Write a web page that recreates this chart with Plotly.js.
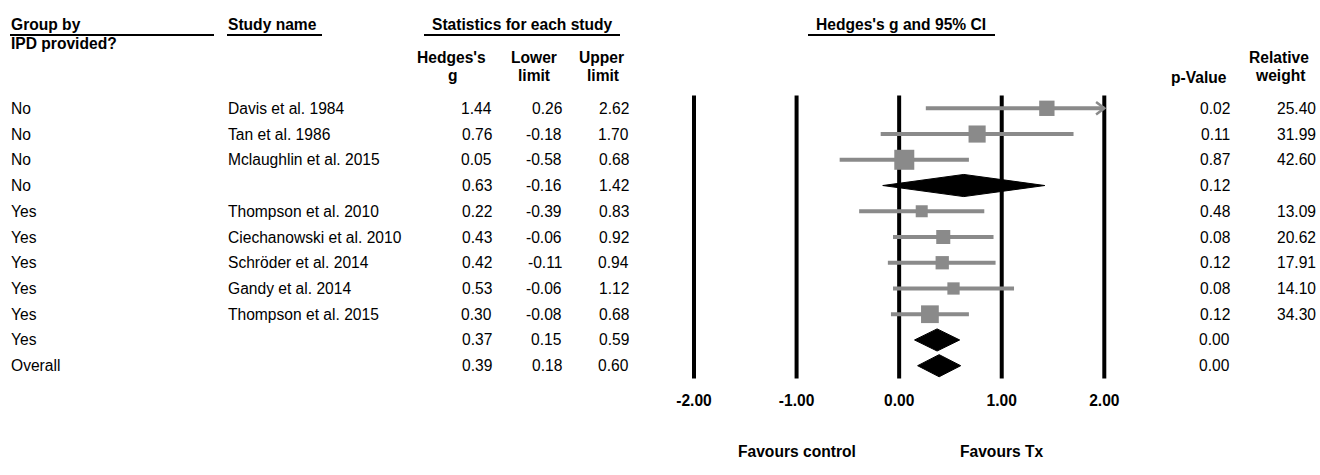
<!DOCTYPE html>
<html>
<head>
<meta charset="utf-8">
<script src="https://cdn.plot.ly/plotly-3.0.1.min.js"></script>
<style>html,body{margin:0;padding:0;background:#fff}#chart{width:1320px;height:475px}</style>
</head>
<body>
<div id="chart"></div>
<script>
// ---------------- data ----------------
const groups = ['No','No','No','No','Yes','Yes','Yes','Yes','Yes','Yes','Overall'];
const studies = ['Davis et al. 1984','Tan et al. 1986','Mclaughlin et al. 2015','',
  'Thompson et al. 2010','Ciechanowski et al. 2010','Schröder et al. 2014','Gandy et al. 2014','Thompson et al. 2015','',''];
const hedgesG = [1.44,0.76,0.05,0.63,0.22,0.43,0.42,0.53,0.30,0.37,0.39];
const lowerLimit = [0.26,-0.18,-0.58,-0.16,-0.39,-0.06,-0.11,-0.06,-0.08,0.15,0.18];
const upperLimit = [2.62,1.70,0.68,1.42,0.83,0.92,0.94,1.12,0.68,0.59,0.60];
const pValues = [0.02,0.11,0.87,0.12,0.48,0.08,0.12,0.08,0.12,0.00,0.00];
const relWeight = [25.40,31.99,42.60,null,13.09,20.62,17.91,14.10,34.30,null,null];
const tickVals = [-2,-1,0,1,2];
const tickText = ['-2.00','-1.00','0.00','1.00','2.00'];

// ---------------- geometry / style ----------------
const W = 1320, H = 475;
const X0 = 899.15, XS = 102.575;     // pixel of 0, pixels per unit
const R0 = 108.3, RS = 25.74;        // pixel of first row, pixels per row
const FONT = '"Liberation Sans", Arial, sans-serif';
const GRAY = '#8a8a8a';
const FS = 15.6;
const pxX = v => v / W;
const pxY = v => 1 - v / H;
const xMin = Math.min(...tickVals), xMax = Math.max(...tickVals);

const traces = [];
// CI lines
const ciX = [], ciY = [];
studies.forEach((s, i) => {
  if (s === '') return;
  ciX.push(Math.max(lowerLimit[i], xMin), Math.min(upperLimit[i], xMax), null);
  ciY.push(i, i, null);
});
traces.push({x: ciX, y: ciY, mode: 'lines', line: {color: GRAY, width: 4}, hoverinfo: 'skip', showlegend: false});
// arrow heads for clipped CIs
studies.forEach((s, i) => {
  if (s === '' || upperLimit[i] <= xMax) return;
  traces.push({x: [xMax - 0.08, xMax, xMax - 0.08], y: [i - 0.24, i, i + 0.24], mode: 'lines',
    line: {color: GRAY, width: 2.5}, hoverinfo: 'skip', showlegend: false});
});
// squares
const sqX = [], sqY = [], sqS = [];
studies.forEach((s, i) => {
  if (s === '') return;
  sqX.push(hedgesG[i]); sqY.push(i); sqS.push(8.45 + 0.271 * relWeight[i]);
});
traces.push({x: sqX, y: sqY, mode: 'markers', marker: {symbol: 'square', size: sqS, color: GRAY, opacity: 1, line: {width: 0}},
  hoverinfo: 'skip', showlegend: false});
// diamonds for summary rows
studies.forEach((s, i) => {
  if (s !== '') return;
  const h = 0.43;
  traces.push({x: [lowerLimit[i], hedgesG[i], upperLimit[i], hedgesG[i], lowerLimit[i]],
    y: [i, i - h, i, i + h, i], mode: 'lines', fill: 'toself', fillcolor: '#000',
    line: {color: '#000', width: 1}, hoverinfo: 'skip', showlegend: false});
});

// ---------------- annotations ----------------
const ann = [];
const body = (txt, x, i, anchor) => ann.push({text: txt, xref: 'paper', yref: 'y', x: pxX(x), y: i, yshift: 0,
  xanchor: anchor, yanchor: 'middle', showarrow: false, font: {family: FONT, size: FS, color: '#000'}});
groups.forEach((g, i) => {
  body(g, 9, i, 'left');
  if (studies[i]) body(studies[i], 226, i, 'left');
  body(hedgesG[i].toFixed(2), 494, i, 'right');
  body(lowerLimit[i].toFixed(2), 564, i, 'right');
  body(upperLimit[i].toFixed(2), 631, i, 'right');
  body(pValues[i].toFixed(2), 1232, i, 'right');
  if (relWeight[i] !== null) body(relWeight[i].toFixed(2), 1318, i, 'right');
});
const head = (txt, x, y, anchor) => ann.push({text: '<b>' + txt + '</b>', xref: 'paper', yref: 'paper',
  x: pxX(x), y: pxY(y), xanchor: anchor, yanchor: 'middle', showarrow: false,
  font: {family: FONT, size: FS, color: '#000'}});
head('Group by', 9, 25, 'left');
head('IPD provided?', 9, 44, 'left');
head('Study name', 226, 25, 'left');
head('Statistics for each study', 522, 25, 'center');
head("Hedges's g and 95% CI", 901, 25, 'center');
head("Hedges's", 451, 58, 'center');
head('g', 453, 75, 'center');
head('Lower', 534, 58, 'center');
head('limit', 534, 75, 'center');
head('Upper', 601, 58, 'center');
head('limit', 603, 75, 'center');
head('p-Value', 1199, 77, 'center');
head('Relative', 1279, 58, 'center');
head('weight', 1280, 75, 'center');
ann.push({text: '<b>Favours control</b>', xref: 'x', yref: 'paper', x: -1, y: pxY(451), xanchor: 'center', yanchor: 'middle',
  showarrow: false, font: {family: FONT, size: FS, color: '#000'}});
ann.push({text: '<b>Favours Tx</b>', xref: 'x', yref: 'paper', x: 1, y: pxY(451), xanchor: 'center', yanchor: 'middle',
  showarrow: false, font: {family: FONT, size: FS, color: '#000'}});

// ---------------- shapes ----------------
const shapes = [];
tickVals.forEach(t => shapes.push({type: 'line', xref: 'x', yref: 'y', x0: t, x1: t, y0: -0.5, y1: groups.length - 0.5,
  line: {color: '#000', width: 4}, layer: 'below'}));
[[10, 214], [227, 322], [424, 620], [808, 995]].forEach(([a, b]) => shapes.push({type: 'line', xref: 'paper', yref: 'paper',
  x0: pxX(a), x1: pxX(b), y0: pxY(35), y1: pxY(35), line: {color: '#000', width: 2}}));

const layout = {
  width: W, height: H, margin: {l: 0, r: 0, t: 0, b: 0}, paper_bgcolor: '#fff', plot_bgcolor: '#fff',
  showlegend: false,
  xaxis: {range: [(0 - X0) / XS, (W - X0) / XS], domain: [0, 1], anchor: 'free', position: pxY(389),
    showgrid: false, zeroline: false, showline: false, ticks: '', tickmode: 'array', tickvals: tickVals, ticktext: tickText,
    tickfont: {family: FONT, size: FS, color: '#000', weight: 'bold'}, fixedrange: true},
  yaxis: {range: [(H - R0) / RS, (0 - R0) / RS], domain: [0, 1], showgrid: false, zeroline: false, showline: false,
    showticklabels: false, ticks: '', fixedrange: true},
  annotations: ann, shapes: shapes
};
Plotly.newPlot('chart', traces, layout, {displayModeBar: false, staticPlot: true});
</script>
</body>
</html>
